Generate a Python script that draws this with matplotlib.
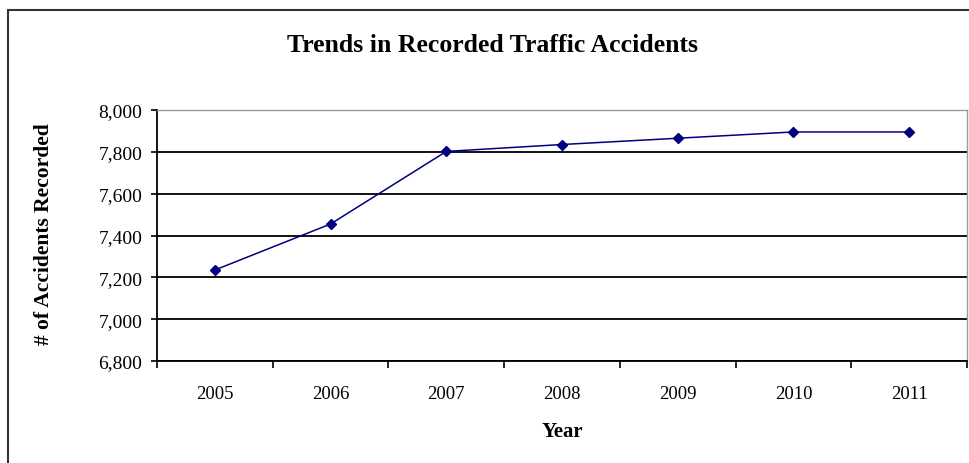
import matplotlib
matplotlib.use("Agg")
import matplotlib.pyplot as plt
import matplotlib.patches as mpatches
from matplotlib.ticker import FuncFormatter, FixedLocator
import numpy as np

# data
years = ["2005", "2006", "2007", "2008", "2009", "2010", "2011"]
accidents = [7235, 7455, 7802, 7835, 7865, 7895, 7895]

plt.rcParams['font.family'] = ['Liberation Serif', 'DejaVu Serif']

W, H = 970, 464
fig = plt.figure(figsize=(W / 100, H / 100), dpi=100, facecolor='white')

# plot area in pixels: left 157, right 967, top 111, bottom 362
ax = fig.add_axes([157 / W, 1 - 362 / H, (967 - 157) / W, (362 - 111) / H])

x = np.arange(len(years))
ax.plot(x, accidents, color='#000080', lw=1.1, marker='D', markersize=5.5,
        markerfacecolor='#000080', markeredgecolor='#000080', zorder=3)

ax.set_xlim(-0.5, len(years) - 0.5)
ax.set_ylim(6800, 8000)
ax.set_yticks(np.arange(6800, 8001, 200))
ax.yaxis.set_major_formatter(FuncFormatter(lambda v, p: f"{int(v):,}"))
ax.grid(axis='y', color='black', lw=1.3, zorder=1)

# categories labelled in the middle, ticks on the boundaries
ax.xaxis.set_major_locator(FixedLocator(np.arange(-0.5, len(years), 1)))
ax.xaxis.set_minor_locator(FixedLocator(x))
ax.set_xticklabels([])
ax.set_xticklabels(years, minor=True)
ax.tick_params(axis='x', which='major', direction='out', length=5, width=1.2, color='black')
ax.tick_params(axis='x', which='minor', length=0, pad=17, labelsize=13.5)
ax.tick_params(axis='y', direction='out', length=4.5, width=1.2, labelsize=14, pad=6)

for s in ['left', 'bottom']:
    ax.spines[s].set_color('black')
    ax.spines[s].set_linewidth(1.3)
for s in ['top', 'right']:
    ax.spines[s].set_color('#999999')
    ax.spines[s].set_linewidth(1.0)

fig.text(493 / W, 1 - 45 / H, "Trends in Recorded Traffic Accidents",
         ha='center', va='center', fontsize=18.5, fontweight='bold')
fig.text(44 / W, 1 - 234 / H, "# of Accidents Recorded", rotation=90,
         ha='center', va='center', fontsize=15.5, fontweight='bold')
fig.text(562 / W, 1 - 432 / H, "Year", ha='center', va='center',
         fontsize=15, fontweight='bold')

# outer chart border, running off the right and bottom edges
fig.patches.append(mpatches.Rectangle((8 / W, -0.1), 1.1, 1 - 11 / H + 0.1,
                                      transform=fig.transFigure, fill=False,
                                      edgecolor='#333333', lw=1.5))

fig.savefig("out.png", dpi=100)
